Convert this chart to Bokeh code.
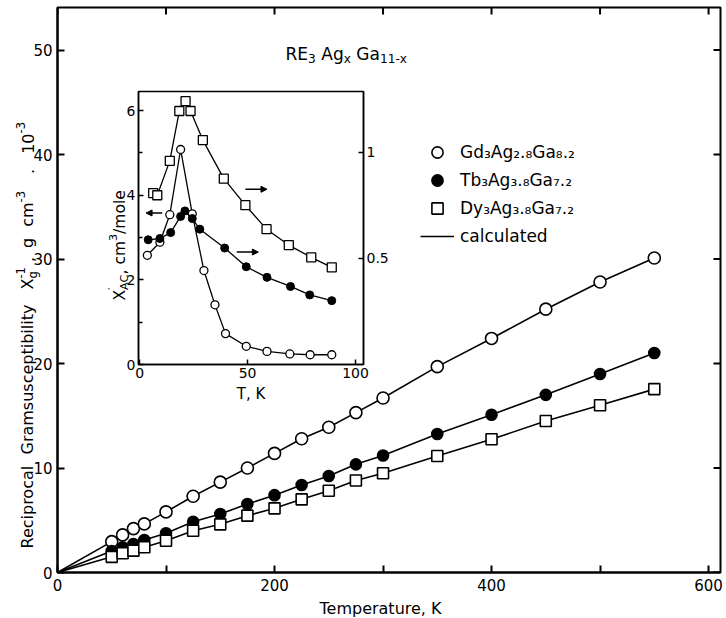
import math
from bokeh.plotting import figure
from bokeh.models import (Label, Range1d, LinearAxis, FixedTicker, Legend, LegendItem,
                          Arrow, NormalHead)
from bokeh.embed import file_html
from bokeh.resources import INLINE

# ---------------- data ----------------
T_main = [50, 60, 70, 80, 100, 125, 150, 175, 200, 225, 250, 275, 300, 350, 400, 450, 500, 550]
gd_inv = [2.95, 3.6, 4.2, 4.65, 5.8, 7.3, 8.65, 10.0, 11.4, 12.8, 13.9, 15.3, 16.7, 19.7, 22.4, 25.2, 27.8, 30.1]
tb_inv = [2.06, 2.41, 2.73, 3.11, 3.75, 4.86, 5.6, 6.55, 7.4, 8.37, 9.23, 10.35, 11.2, 13.25, 15.1, 17.0, 19.0, 21.0]
dy_inv = [1.5, 1.84, 2.09, 2.41, 3.04, 4.0, 4.61, 5.44, 6.14, 7.0, 7.83, 8.8, 9.5, 11.15, 12.75, 14.5, 16.0, 17.55]
T_origin = [0]
inv_origin = [0]

# inset: AC susceptibility
T_gd_ac = [3.6, 9.4, 14, 19, 24.4, 29.8, 34.9, 39.8, 49.4, 59, 69.6, 79, 89]
gd_ac = [2.58, 2.89, 3.54, 5.08, 3.56, 2.22, 1.41, 0.73, 0.43, 0.31, 0.25, 0.23, 0.23]      # left axis
T_tb_ac = [4, 9.4, 14.4, 19, 21, 24.4, 27.9, 39.4, 49.4, 59, 69.9, 78.8, 89]
tb_ac = [0.588, 0.594, 0.622, 0.698, 0.724, 0.688, 0.638, 0.549, 0.461, 0.411, 0.368, 0.328, 0.301]  # right axis
T_dy_ac = [6.3, 8.2, 14, 18.4, 21.3, 23.6, 29.3, 39, 49, 58.8, 69.1, 79.5, 89]
dy_ac = [0.808, 0.798, 0.960, 1.195, 1.242, 1.195, 1.058, 0.876, 0.751, 0.638, 0.563, 0.505, 0.458]  # right axis

x_ticks = [0, 100, 200, 300, 400, 500, 600]
y_ticks = [0, 10, 20, 30, 40, 50]
in_x_ticks = [0, 50, 100]
in_y_ticks = [0, 2, 4, 6]
in_y_minor = [1, 3, 5]
in_r_ticks = [0.5, 1]

FONT = "DejaVu Sans"
CW = {'R': .695, 'E': .632, 'A': .684, 'G': .775, 'T': .611, 'D': .770, 'K': .656, 'X': .685,
      'C': .698, 'a': .613, 'b': .635, 'c': .550, 'd': .635, 'e': .615, 'g': .635, 'i': .278,
      'l': .278, 'm': .974, 'o': .612, 'p': .635, 'r': .411, 's': .521, 't': .392, 'u': .634,
      'y': .592, 'x': .592, 'n': .634, 'h': .634, 'f': .352, 'k': .579, '.': .318, ',': .318,
      ' ': .318, '-': .361, '/': .337, '′': .30, '−': .838}
for d in "0123456789":
    CW[d] = .636


def tw(s, fs):
    return sum(CW.get(c, 0.6) for c in s) * fs


# ---------------- transparent full-page text layer ----------------
PW, PH = 726, 618
txt = figure(width=PW, height=PH, x_range=Range1d(0, PW), y_range=Range1d(0, PH),
             x_axis_type=None, y_axis_type=None, output_backend="svg", toolbar_location=None,
             min_border=0, min_border_left=0, min_border_right=0, min_border_top=0,
             min_border_bottom=0)
txt.outline_line_color = None
txt.background_fill_alpha = 0
txt.border_fill_alpha = 0
txt.grid.visible = False
txt.styles = {"position": "absolute", "left": "0px", "top": "0px", "z-index": "10",
              "pointer-events": "none"}


def rich(x0, y0, parts, size, angle=0.0):
    """Rich text run on the page layer. x0, y0: page px (from top-left) of the baseline start."""
    pos = 0.0
    for part in parts:
        text, kind = part[0], part[1]
        adv = part[2] if len(part) > 2 else True
        gap = part[3] if len(part) > 3 else 0.0
        pos += gap
        fs = size if kind == "n" else size * 0.72
        shift = 0.0 if kind == "n" else (0.32 * size if kind == "sub" else -0.42 * size)
        lead = len(text) - len(text.lstrip(" "))
        start = pos + lead * CW[" "] * fs
        body = text.strip(" ")
        if angle == 0:
            cx, cy = x0 + start, y0 + shift
        else:
            cx, cy = x0 + shift, y0 - start
        txt.add_layout(Label(x=cx, y=PH - cy, x_units="screen", y_units="screen", text=body,
                             angle=angle, text_font=FONT, text_font_size=f"{fs:.1f}px",
                             text_baseline="alphabetic", text_align="left", text_color="black"))
        if adv:
            pos += tw(text, fs)
    return pos


# ---------------- main figure ----------------
W, H = 724, 616
BL, BR, BT, BB = 57, 4, 7, 44
X_END, Y_END = 611, 54.07
p = figure(width=W, height=H, x_range=Range1d(0, X_END), y_range=Range1d(0, Y_END),
           output_backend="svg", toolbar_location=None,
           min_border_left=BL, min_border_right=BR, min_border_top=BT, min_border_bottom=BB)
p.grid.visible = False
p.outline_line_color = "black"
p.outline_line_width = 2
p.background_fill_color = "white"
p.border_fill_color = "white"


def style_axis(ax, size="15px", standoff=5):
    ax.axis_line_width = 2
    ax.axis_line_color = "black"
    ax.major_tick_in = 7
    ax.major_tick_out = 0
    ax.minor_tick_in = 0
    ax.minor_tick_out = 0
    ax.major_tick_line_width = 2
    ax.major_label_text_font = FONT
    ax.major_label_text_color = "black"
    ax.major_label_standoff = standoff
    ax.major_label_text_font_size = size


p.xaxis.ticker = FixedTicker(ticks=x_ticks)
p.xaxis.major_label_overrides = {100: "", 300: "", 500: ""}
p.yaxis.ticker = FixedTicker(ticks=y_ticks)
style_axis(p.xaxis[0], standoff=6)
style_axis(p.yaxis[0], standoff=5)

# inward ticks on the top and right frame edges
p.scatter(x_ticks, [Y_END] * len(x_ticks), marker="dash", size=14, angle=math.pi / 2,
          line_color="black", line_width=2)
p.scatter([X_END] * len(y_ticks), y_ticks, marker="dash", size=14,
          line_color="black", line_width=2)

lw = 1.6
l_gd = p.line(T_origin + T_main, inv_origin + gd_inv, line_color="black", line_width=lw)
p.line(T_origin + T_main, inv_origin + tb_inv, line_color="black", line_width=lw)
p.line(T_origin + T_main, inv_origin + dy_inv, line_color="black", line_width=lw)
r_gd = p.scatter(T_main, gd_inv, marker="circle", size=12, fill_color="white",
                 line_color="black", line_width=1.6)
r_tb = p.scatter(T_main, tb_inv, marker="circle", size=11, fill_color="black",
                 line_color="black", line_width=1.6)
r_dy = p.scatter(T_main, dy_inv, marker="square", size=11, fill_color="white",
                 line_color="black", line_width=1.6)

FL, FB = BL, H - BB
legend = Legend(items=[
    LegendItem(label="Gd₃Ag₂.₈Ga₈.₂", renderers=[r_gd]),
    LegendItem(label="Tb₃Ag₃.₈Ga₇.₂", renderers=[r_tb]),
    LegendItem(label="Dy₃Ag₃.₈Ga₇.₂", renderers=[r_dy]),
    LegendItem(label="calculated", renderers=[l_gd]),
], location=(420 - FL, FB - 250), label_text_font=FONT, label_text_font_size="17px",
    label_text_color="black",
    glyph_width=34, glyph_height=28, label_height=28, spacing=0, padding=0, margin=0,
    label_standoff=6, background_fill_alpha=0, border_line_alpha=0)
p.add_layout(legend)

# ---------------- inset ----------------
IBL, IBR, IBT, IBB = 50, 32, 8, 48
IFW, IFH = 225, 273
IW, IH = IBL + IFW + IBR, IBT + IFH + IBB
ins = figure(width=IW, height=IH, x_range=Range1d(-0.5, 103.7), y_range=Range1d(0, 6.45),
             output_backend="svg", toolbar_location=None,
             min_border_left=IBL, min_border_right=IBR, min_border_top=IBT, min_border_bottom=IBB)
ins.background_fill_alpha = 0
ins.border_fill_alpha = 0
ins.grid.visible = False
ins.outline_line_color = "black"
ins.outline_line_width = 1.5
ins.extra_y_ranges = {"right": Range1d(0, 1.287)}


def style_in(ax):
    ax.axis_line_width = 1.5
    ax.axis_line_color = "black"
    ax.major_tick_in = 5
    ax.major_tick_out = 0
    ax.minor_tick_in = 0
    ax.minor_tick_out = 0
    ax.major_tick_line_width = 1.5
    ax.major_label_text_font = FONT
    ax.major_label_text_color = "black"
    ax.major_label_text_font_size = "14px"
    ax.major_label_standoff = 3


ins.xaxis.ticker = FixedTicker(ticks=in_x_ticks)
ins.yaxis.ticker = FixedTicker(ticks=in_y_ticks, minor_ticks=in_y_minor)
style_in(ins.xaxis[0])
style_in(ins.yaxis[0])
ins.yaxis.minor_tick_in = 4
ins.yaxis.minor_tick_line_width = 1.5
ins.xaxis.axis_label = "T, K"
ins.xaxis.axis_label_text_font = FONT
ins.xaxis.axis_label_text_font_style = "normal"
ins.xaxis.axis_label_text_color = "black"
ins.xaxis.axis_label_text_font_size = "15px"
ins.xaxis.axis_label_standoff = 4
rax = LinearAxis(y_range_name="right", ticker=FixedTicker(ticks=in_r_ticks),
                 major_label_overrides={1: "1", 0.5: "0.5"})
style_in(rax)
ins.add_layout(rax, "right")

ilw = 1.3
ins.line(T_gd_ac, gd_ac, line_color="black", line_width=ilw)
ins.scatter(T_gd_ac, gd_ac, marker="circle", size=8, fill_color="white", line_color="black", line_width=1.3)
ins.line(T_tb_ac, tb_ac, line_color="black", line_width=ilw, y_range_name="right")
ins.scatter(T_tb_ac, tb_ac, marker="circle", size=8, fill_color="black", line_color="black",
            y_range_name="right")
ins.line(T_dy_ac, dy_ac, line_color="black", line_width=ilw, y_range_name="right")
ins.scatter(T_dy_ac, dy_ac, marker="square", size=9, fill_color="white", line_color="black",
            line_width=1.3, y_range_name="right")

# arrows telling which axis each curve belongs to
ins.add_layout(Arrow(end=NormalHead(size=6, fill_color="black", line_color="black"),
                     x_start=10.5, y_start=3.58, x_end=3, y_end=3.58, line_width=1.5))
ins.add_layout(Arrow(end=NormalHead(size=6, fill_color="black", line_color="black"),
                     x_start=49, y_start=0.826, x_end=59, y_end=0.826, line_width=1.5,
                     y_range_name="right"))
ins.add_layout(Arrow(end=NormalHead(size=6, fill_color="black", line_color="black"),
                     x_start=45, y_start=0.53, x_end=55, y_end=0.53, line_width=1.5,
                     y_range_name="right"))

INS_LEFT, INS_TOP = 138 - IBL, 91 - IBT
ins.styles = {"position": "absolute", "left": f"{INS_LEFT}px", "top": f"{INS_TOP}px",
              "z-index": "5"}

# ---------------- texts with sub/superscripts ----------------
ang = math.pi / 2
# title formula
rich(285, 53, [("RE", "n"), ("3", "sub"), (" Ag", "n"), ("x", "sub"), (" Ga", "n"),
               ("11-x", "sub")], 17)
# main y axis label (rotated, reads bottom to top)
rich(27, 548, [("Reciprocal", "n")], 16, ang)
rich(27, 454, [("Gramsusceptibility", "n")], 16, ang)
rich(27, 289, [("X", "n"), ("g", "sub", False), ("-1", "sup"), (",", "n", True, 5),
               ("g", "n", True, 9), ("cm", "n", True, 11), ("-3", "sup"), (".", "n", True, 17),
               ("10", "n", True, 15), ("-3", "sup")], 16, ang)
# main x axis label
txt.add_layout(Label(x=380, y=PH - 608, x_units="screen", y_units="screen",
                     text="Temperature, K", text_font=FONT, text_font_size="16px",
                     text_color="black", text_align="center", text_baseline="alphabetic"))
# inset y axis label
rich(119, 300, [("X", "n"), ("′", "sup", False), ("AC", "sub"), (",", "n"), (" cm", "n"),
                ("3", "sup"), ("/mole", "n")], 15.5, ang)

open("out.html", "w").write(file_html([p, ins, txt], INLINE))
